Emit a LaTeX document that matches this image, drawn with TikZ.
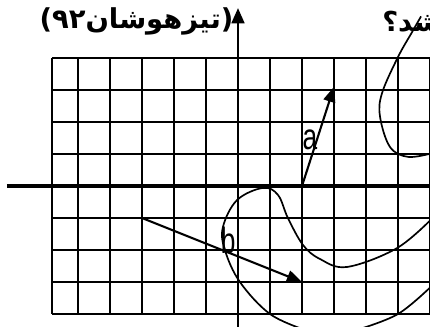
\documentclass[tikz,border=0pt]{standalone}
\usepackage{fontspec}
\setmainfont{Liberation Sans}
\newfontfamily\farsifont[Script=Arabic]{DejaVu Sans}
\TeXXeTstate=1
\usetikzlibrary{arrows.meta}
\tikzset{
  gridln/.style={line width=1.6pt},
  xaxis/.style={line width=2.8pt},
  yaxis/.style={line width=1.6pt, -{Triangle[length=3.8mm,width=3.2mm]}},
  vec/.style={line width=1.5pt, -{Triangle[length=3.8mm,width=3mm]}},
  crv/.style={line width=1.2pt},
  lbl/.style={font=\fontsize{26}{26}\selectfont, inner sep=0pt, xscale=0.72, transform shape},
  fa/.style={font=\farsifont\bfseries\fontsize{19.5}{24}\selectfont, inner sep=0pt},
}

\begin{document}
\begin{tikzpicture}[x=0.8cm,y=0.8cm]
  \useasboundingbox (-7.4375,-4.406) rectangle (6,5.8125);
  \clip (-7.4375,-4.406) rectangle (6,5.8125);
  % grid
  \draw[gridln] (-5.81,-4) -- (-5.81,4);
  \foreach \x in {-5,...,6} \draw[gridln] (\x,-4) -- (\x,4);
  \foreach \y in {-4,...,4} \draw[gridln] (-5.81,\y) -- (6,\y);
  % axes
  \coordinate (xs) at (-7.22,0);
  \coordinate (xe) at (6.2,0);
  \coordinate (ys) at (0,-4.5);
  \coordinate (ye) at (0,5.56);
  \draw[xaxis] (xs) -- (xe);
  \draw[yaxis] (ys) -- (ye);
  % vectors
  \coordinate (a0) at (2,0);
  \coordinate (a1) at (3,3.1);
  \coordinate (b0) at (-3,-1);
  \coordinate (b1) at (2,-3);
  \draw[vec] (a0) -- (a1);
  \draw[vec] (b0) -- (b1);
  \node[lbl] (la) at (2.25,1.44) {a};
  \node[lbl] (lb) at (-0.31,-1.69) {b};
  % curves
  \draw[crv] plot[smooth, tension=0.6] coordinates {(5.72,5.3) (5.44,4.81) (5,4.03) (4.5,2.9) (4.44,2.16) (4.75,1.22) (5.31,0.91) (6.05,1.02)};
  \draw[crv] plot[smooth, tension=0.6] coordinates {(6.1,-0.98) (4.97,-1.94) (3.41,-2.53) (2.56,-2.28) (2.03,-1.84) (1.56,-1) (1.25,-0.28) (0.78,-0.06) (-0.03,-0.44) (-0.47,-1.28) (-0.41,-2) (0.06,-3) (1,-4) (2.1,-4.5)};
  \draw[crv] plot[smooth, tension=0.6] coordinates {(3.7,-4.5) (5,-4) (6.1,-3.08)};
  % texts
  \node[fa] (title) at (-3.17,5.13) {\beginR(تیزهوشان۹۲)\endR};
  \node[fa, anchor=west] (tail) at (4.5,5.13) {\beginR شد؟\endR};
\end{tikzpicture}
\end{document}
